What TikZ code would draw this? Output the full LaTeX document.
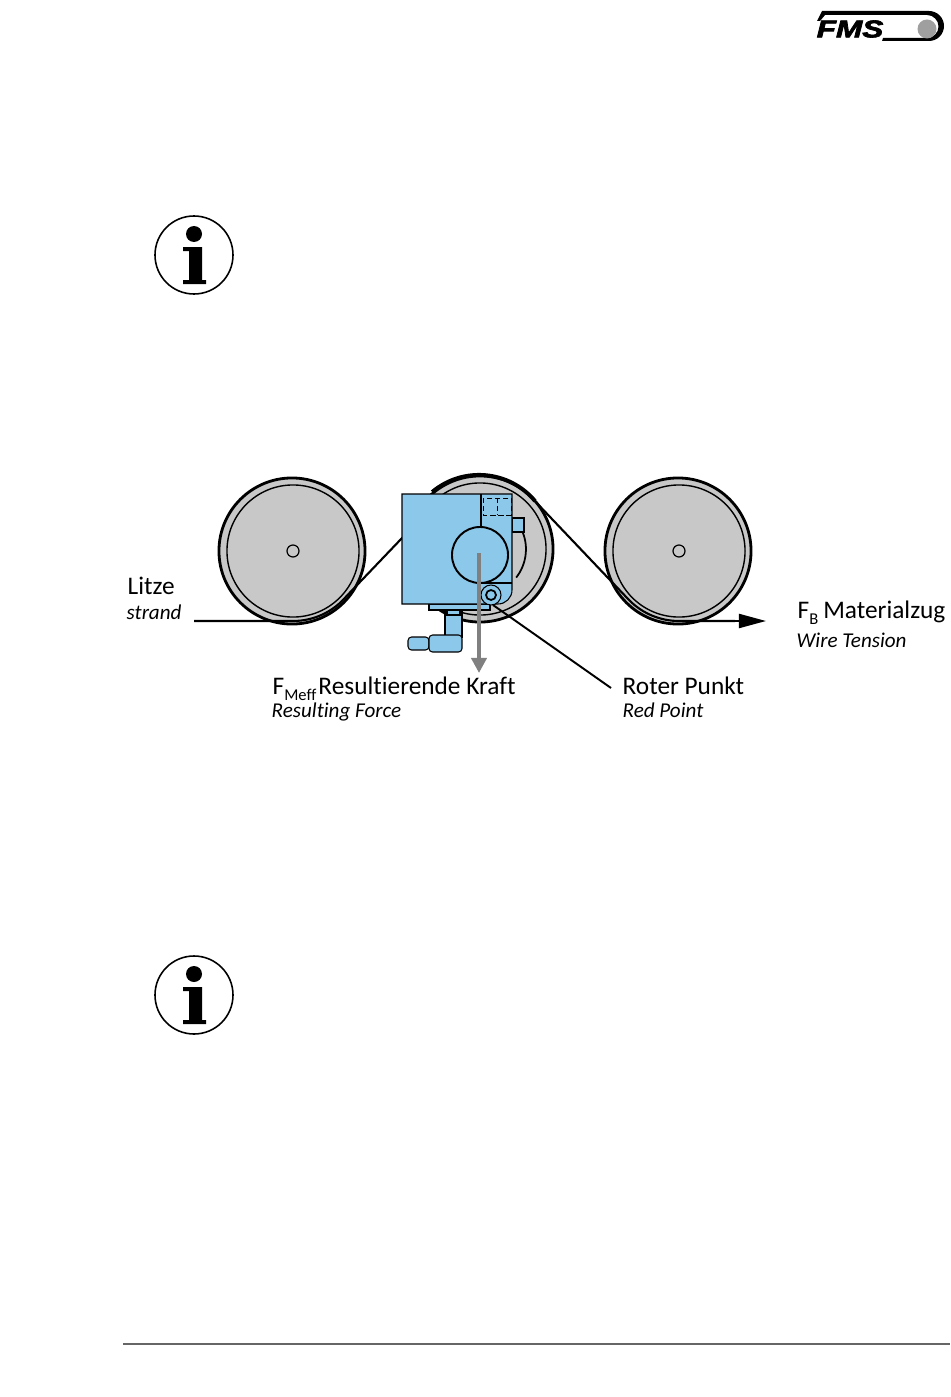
\documentclass[tikz,border=0pt]{standalone}
\usepackage{fontspec}
\setmainfont{Carlito}[Ligatures=NoCommon]
\newfontfamily\logofont{Liberation Sans}[UprightFont=* Bold Italic,FakeBold=2.5]
\usepackage{xcolor}
\usetikzlibrary{arrows.meta,positioning}
\definecolor{blockblue}{HTML}{8CC8EA}
\definecolor{rollergray}{HTML}{C8C8C8}
\newcommand{\subtxt}[1]{\raisebox{-0.6mm}{\fontsize{4.7pt}{5pt}\selectfont #1}}
\tikzset{roller/.style={circle, draw = black, line width=0.8pt, fill = rollergray, inner sep=0pt, minimum size=1.46cm}}
\tikzset{rollerin/.style={circle, draw = black, line width=0.4pt, inner sep=0pt, minimum size=1.32cm}}
\tikzset{axle/.style={circle, draw = black, line width=0.35pt, fill = rollergray, inner sep=0pt, minimum size=0.12cm}}
\tikzset{wire/.style={line width=0.6pt, black}}
\tikzset{part/.style={draw = black, line width=0.3pt, fill = blockblue}}
\tikzset{mainlbl/.style={anchor=base west, inner sep=0pt, font=\fontsize{7.2pt}{8pt}\selectfont}}
\tikzset{sublbl/.style={anchor=base west, inner sep=0pt, font=\fontsize{6pt}{7pt}\selectfont\itshape}}
\tikzset{infoicon/.pic={
\draw[line width=0.45pt, fill=white] (0,0) circle[radius=39];
\fill (0,21) circle[radius=8];
\fill (-11,8) -- (8,8) -- (8,-25) -- (12,-25) -- (12,-29) -- (-11,-29) -- (-11,-25) -- (-5,-25) -- (-5,4) -- (-11,4) -- cycle;
}}

\begin{document}
\begin{tikzpicture}[x=0.01cm,y=0.01cm]
\useasboundingbox (0,0) rectangle (950,-1397);

% The logo
\fill (817,-21) -- (822,-11) -- (929,-11) arc (90:-90:15) -- (882,-41) -- (883,-38) -- (927,-38) arc (-90:90:11.5) -- (825,-15) -- (820,-21) -- cycle;
\fill[gray!75] (927,-29) circle[radius=9.5];
\node (logotxt) at (850,-29) [xscale=1.3, transform shape, inner sep=0pt, font=\logofont\fontsize{6.9pt}{7pt}\selectfont] {FMS};

% Info signs
\pic (infoa) at (194,-255) {infoicon};
\pic (infob) at (194,-995) {infoicon};

% The rollers
\node (rollerL) at (292,-551) [roller] {};
\node (rollerLin) at (293,-551) [rollerin] {};
\node (axleL) at (293,-551) [axle] {};
\node (rollerM) at (480,-549) [roller] {};
\node (rollerMin) at (480,-549) [rollerin] {};
\node (rollerR) at (678,-551) [roller] {};
\node (rollerRin) at (679,-551) [rollerin] {};
\node (axleR) at (679,-551) [axle] {};

% The wire
\coordinate (wirein) at (194,-621);
\coordinate (wireout) at (766,-621);
\coordinate (wireup) at (403,-537);
\coordinate (wiredown) at (629.5,-600.5);
\coordinate (wiretop) at (535.9,-502.1);
\draw[wire] (wirein) -- (293,-621) arc (270:320:70) -- (wireup);
\draw[wire, line width=1.1pt] (rollerM.130) arc (130:40:73);
\draw[wire] (wiretop) -- (wiredown) arc (225:270:70) -- (735,-621);
\draw[wire, -{Triangle[length=0.27cm,width=0.14cm]}] (735,-621) -- (wireout);

% The sensor
\draw[line width=0.5pt] (522.6,-532) arc (22:-38:46);
\draw[part] (512,-518) rectangle (524,-532);
\draw[part] (429,-604) rectangle (490,-610);
\draw[part] (445,-612) rectangle (462,-637);
\draw[part] (447,-610) rectangle (460,-615);
\draw[part, rounded corners=1pt] (408,-637) rectangle (429,-650);
\draw[part, rounded corners=1pt] (429,-635) rectangle (462,-652);
\draw[part] (402,-494) -- (512,-494) -- (512,-590) arc (0:-90:14) -- (402,-604) -- cycle;
\draw[line width=0.4pt] (481,-494) -- (481,-528);
\draw[line width=0.2pt, dash pattern=on 1.5pt off 0.8pt] (483,-498) rectangle (511,-515);
\draw[line width=0.2pt, dash pattern=on 1.5pt off 0.8pt] (497,-498) -- (497,-515);
\node (hub) at (480,-555) [circle, draw = black, line width=0.55pt, fill = blockblue, inner sep=0pt, minimum size=0.56cm] {};
\draw[line width=0.4pt] (482,-583) -- (512,-583);
\node (boss) at (491,-595) [circle, draw = black, line width=0.3pt, fill = blockblue, inner sep=0pt, minimum size=0.2cm] {};
\node (bore) at (491,-595) [circle, draw = black, line width=0.5pt, fill = blockblue, inner sep=0pt, minimum size=0.1cm] {};

% Force and leader
\coordinate (forcetip) at (479,-673);
\coordinate (leaderend) at (611,-688);
\coordinate (leaderstart) at (493,-605);
\draw[line width=1.4pt, gray, -{Triangle[length=0.15cm,width=0.15cm]}] (479,-553) -- (forcetip);
\draw[wire, line width=0.55pt] (leaderstart) -- (leaderend);

% Labels
\node (litze) at (127,-594) [mainlbl] {Litze};
\node (strand) at (126,-619) [sublbl] {strand};
\node (fmeff) at (272,-694) [mainlbl] {F\subtxt{Meff}\kern0.2mm Resultierende Kraft};
\node (resforce) at (271,-717) [sublbl] {Resulting Force};
\node (roter) at (622,-694) [mainlbl] {Roter Punkt};
\node (redpt) at (622,-717) [sublbl] {Red Point};
\node (fb) at (797,-618) [mainlbl] {F\subtxt{B}\kern0.5mm Materialzug};
\node (wiret) at (796,-647) [sublbl] {Wire Tension};

% Footer rule
\coordinate (footl) at (123,-1344);
\coordinate (footr) at (950,-1344);
\draw[line width=0.35pt, black!60] (footl) -- (footr);
\end{tikzpicture}
\end{document}
